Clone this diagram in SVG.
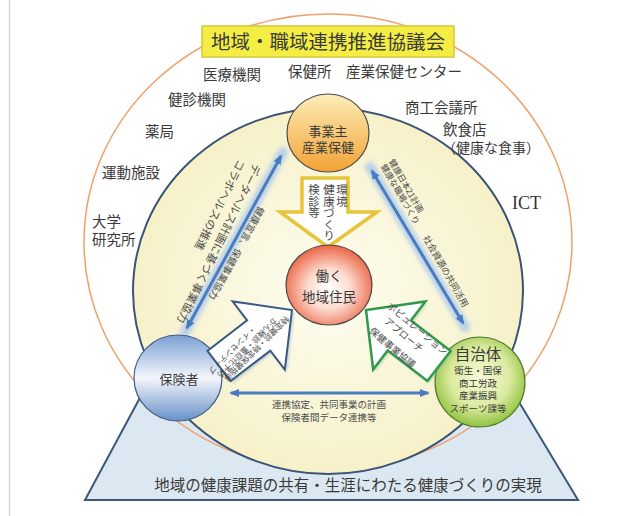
<svg xmlns="http://www.w3.org/2000/svg" width="630" height="516" viewBox="0 0 630 516">
<defs>
<style>
.t{font-family:"Noto Sans CJK JP","Noto Sans",sans-serif;fill:#3a3a3a}
.lbl{font-size:14.5px}
.node{text-anchor:middle}
.sm{font-family:"Noto Sans CJK JP",sans-serif;fill:#4a4a4a}
.glow{stroke:#a9c8ee;stroke-width:10;stroke-linecap:round;fill:none;opacity:.8}
.ln{stroke:#4a7cc0;stroke-width:3;fill:none}
.vt{writing-mode:vertical-rl}
</style>
<radialGradient id="gInner" cx="50%" cy="50%" r="50%"><stop offset="0" stop-color="#fefdf2"/><stop offset="1" stop-color="#f6f1c8"/></radialGradient>
<linearGradient id="gOrange" x1="0" y1="0" x2="0" y2="1"><stop offset="0" stop-color="#fdeeb8"/><stop offset="1" stop-color="#f2a234"/></linearGradient>
<radialGradient id="gRed" cx="50%" cy="55%" r="55%"><stop offset="0" stop-color="#ffffff"/><stop offset=".45" stop-color="#fcdccf"/><stop offset="1" stop-color="#ec6446"/></radialGradient>
<linearGradient id="gBlue" x1="0" y1="0" x2="0" y2="1"><stop offset="0" stop-color="#7a9fd3"/><stop offset=".5" stop-color="#f3f6fb"/><stop offset="1" stop-color="#6890c8"/></linearGradient>
<radialGradient id="gGreen" cx="50%" cy="45%" r="55%"><stop offset="0" stop-color="#f7f9d8"/><stop offset=".6" stop-color="#dbeaa0"/><stop offset="1" stop-color="#92c241"/></radialGradient>
<filter id="blur" x="-20%" y="-20%" width="140%" height="140%"><feGaussianBlur stdDeviation="2"/></filter>
<filter id="shadow" x="-20%" y="-20%" width="140%" height="140%"><feGaussianBlur stdDeviation="1.5"/></filter>
<marker id="ah" viewBox="0 0 10 10" refX="8" refY="5" markerWidth="10" markerHeight="10" markerUnits="userSpaceOnUse" orient="auto-start-reverse"><path d="M0,1 L10,5 L0,9 z" fill="#4a7cc0"/></marker>
</defs>
<rect width="630" height="516" fill="#ffffff"/>
<line x1="9.5" y1="0" x2="9.5" y2="516" stroke="#d9d9d9" stroke-width="1.5"/>

<g id="base">
<polygon points="143,392 513,392 578,500 85,500" fill="#dce8f1" stroke="#3b587a" stroke-width="2"/>
<ellipse cx="328" cy="242" rx="244" ry="228" fill="none" stroke="#efa06c" stroke-width="1.5"/>
<ellipse cx="328" cy="291" rx="195" ry="183" fill="url(#gInner)" stroke="#3a5475" stroke-width="2"/>
<text class="t" x="348" y="491" font-size="15.5" text-anchor="middle">地域の健康課題の共有・生涯にわたる健康づくりの実現</text>
</g>

<g id="title">
<rect x="202" y="26" width="252" height="31" fill="#f4ee44" stroke="#d8c838" stroke-width="1.5"/>
<text class="t" x="328" y="49" font-size="19.5" text-anchor="middle">地域・職域連携推進協議会</text>
</g>

<g id="members" class="t lbl">
<text x="203" y="80">医療機関</text>
<text x="288" y="77">保健所</text>
<text x="346" y="77">産業保健センター</text>
<text x="168" y="105">健診機関</text>
<text x="145" y="137">薬局</text>
<text x="102" y="178">運動施設</text>
<text x="92" y="227">大学</text>
<text x="92" y="245">研究所</text>
<text x="405" y="113">商工会議所</text>
<text x="443" y="135">飲食店</text>
<text x="442" y="153" font-size="14">（健康な食事）</text>
<text x="512" y="209" font-family="Liberation Serif,serif" font-size="18" fill="#333">ICT</text>
</g>

<g id="connectors">
<line class="glow" x1="185" y1="332" x2="283" y2="152" filter="url(#blur)"/>
<line class="ln" x1="187" y1="328" x2="281" y2="156" marker-start="url(#ah)" marker-end="url(#ah)"/>
<line class="glow" x1="370" y1="167" x2="465" y2="327" filter="url(#blur)"/>
<line class="ln" x1="372" y1="171" x2="463" y2="323" marker-start="url(#ah)" marker-end="url(#ah)"/>
<line class="glow" x1="227" y1="393" x2="432" y2="393" filter="url(#blur)"/>
<line class="ln" x1="231" y1="393" x2="428" y2="393" marker-start="url(#ah)" marker-end="url(#ah)"/>
<text class="sm" font-size="11" dominant-baseline="central" transform="translate(258.3,165) rotate(116)">データヘルス計画に基づく事業協力</text>
<text class="sm" font-size="11" dominant-baseline="central" transform="translate(242.4,161) rotate(116)">コラボヘルスの推進</text>
<text class="sm" font-size="9.5" dominant-baseline="central" transform="translate(262.3,207.8) rotate(118.9)">健康宣言、保健事業協力</text>
<text class="sm" font-size="8.5" dominant-baseline="central" transform="translate(391.9,159.3) rotate(60)">健康日本21計画</text>
<text class="sm" font-size="8.5" dominant-baseline="central" transform="translate(383.9,164.3) rotate(60)">健康な職場づくり</text>
<text class="sm" font-size="9" dominant-baseline="central" transform="translate(425.7,236.1) rotate(60)">社会資源の共同活用</text>
<text class="sm" font-size="9.5" x="329" y="408" text-anchor="middle">連携協定、共同事業の計画</text>
<text class="sm" font-size="9.5" x="329" y="421" text-anchor="middle">保険者間データ連携等</text>
</g>

<g id="arrow-down">
<polygon points="302,178 348,178 348,212 377,212 328,247 280,212 302,212" fill="#ffffff" stroke="#e8c43a" stroke-width="3.5" stroke-linejoin="miter"/>
<text class="sm vt" x="342" y="184" font-size="11.5">環境</text>
<text class="sm vt" x="329" y="184" font-size="11.5">健康づくり</text>
<text class="sm vt" x="314" y="184" font-size="11.5">検診等</text>
</g>

<g id="node-jigyounushi">
<ellipse cx="328" cy="133" rx="41" ry="39" fill="url(#gOrange)" stroke="#4a4a4a" stroke-width="1.2"/>
<text class="t node" x="328" y="136" font-size="13">事業主</text>
<text class="t node" x="328" y="152" font-size="13">産業保健</text>
</g>

<g id="node-juumin">
<ellipse cx="329" cy="285" rx="43" ry="40" fill="url(#gRed)" stroke="#4a4a4a" stroke-width="1.2"/>
<text class="t node" x="329" y="281" font-size="13.5">働く</text>
<text class="t node" x="329" y="302" font-size="13.5">地域住民</text>
</g>

<g id="node-hokensha">
<ellipse cx="178" cy="378" rx="44" ry="43" fill="url(#gBlue)" stroke="#3f5f88" stroke-width="1.2"/>
<text class="t node" x="179" y="384" font-size="13">保険者</text>
</g>

<g id="node-jichitai">
<ellipse cx="480" cy="382" rx="45" ry="45" fill="url(#gGreen)" stroke="#4f7a2a" stroke-width="1.2"/>
<text class="t node" x="478" y="360" font-size="15.5">自治体</text>
<text class="t node" x="478" y="374" font-size="9.5">衛生・国保</text>
<text class="t node" x="478" y="386.5" font-size="9.5">商工労政</text>
<text class="t node" x="478" y="399" font-size="9.5">産業振興</text>
<text class="t node" x="478" y="411.5" font-size="9.5">スポーツ課等</text>
</g>

<g id="arrow-left">
<polygon points="292,310 284.8,369.6 270.3,350.6 230.6,381.1 207.4,350.9 247.1,320.4 232.6,301.4" fill="#8aa2c0" opacity=".5" filter="url(#shadow)" transform="translate(2,2)"/>
<polygon points="292,310 284.8,369.6 270.3,350.6 230.6,381.1 207.4,350.9 247.1,320.4 232.6,301.4" fill="#ffffff" stroke="#3a5a82" stroke-width="2"/>
<text class="sm" font-size="8" dominant-baseline="central" transform="translate(288,318) rotate(135)">特定健診・特定保健指導</text>
<text class="sm" font-size="8" dominant-baseline="central" transform="translate(276,320) rotate(135)">がん検診・重症化予防</text>
<text class="sm" font-size="8" dominant-baseline="central" transform="translate(255,328) rotate(135)">・インセンティブ</text>
</g>

<g id="arrow-right">
<polygon points="366,310 373.2,369.6 387.7,350.6 427.4,381.1 450.6,350.9 410.9,320.4 425.4,301.4" fill="#8fb89a" opacity=".5" filter="url(#shadow)" transform="translate(2,2)"/>
<polygon points="366,310 373.2,369.6 387.7,350.6 427.4,381.1 450.6,350.9 410.9,320.4 425.4,301.4" fill="#ffffff" stroke="#2f9a4a" stroke-width="2.5"/>
<text class="sm" font-size="9.5" dominant-baseline="central" transform="translate(389,304) rotate(40)">ポピュレーション</text>
<text class="sm" font-size="9.5" dominant-baseline="central" transform="translate(386,319) rotate(40)">アプローチ</text>
<text class="sm" font-size="9.5" dominant-baseline="central" transform="translate(371,329) rotate(40)">保健事業協議</text>
</g>
</svg>
